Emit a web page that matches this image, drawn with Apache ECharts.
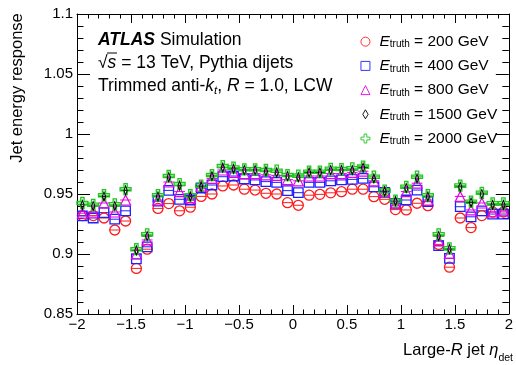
<!DOCTYPE html>
<html>
<head>
<meta charset="utf-8">
<script src="https://cdn.jsdelivr.net/npm/echarts@6/dist/echarts.min.js"></script>
<style>
  html, body { margin: 0; padding: 0; background: #fff; }
  #chart { width: 516px; height: 365px; }
</style>
</head>
<body>
<div id="chart"></div>
<script>
// Detector-eta bin centres (bin width 0.1)
const etaBins = [
  -1.95, -1.85, -1.75, -1.65, -1.55, -1.45, -1.35, -1.25, -1.15, -1.05,
  -0.95, -0.85, -0.75, -0.65, -0.55, -0.45, -0.35, -0.25, -0.15, -0.05,
   0.05,  0.15,  0.25,  0.35,  0.45,  0.55,  0.65,  0.75,  0.85,  0.95,
   1.05,  1.15,  1.25,  1.35,  1.45,  1.55,  1.65,  1.75,  1.85,  1.95
];
const binHalfWidth = 0.05;

// Mean jet energy response per eta bin, one array per truth energy
const resp200 = [
  0.932, 0.932, 0.930, 0.920, 0.9275, 0.888, 0.904, 0.938, 0.942, 0.936,
  0.939, 0.948, 0.950, 0.9567, 0.9575, 0.954, 0.9533, 0.9506, 0.950, 0.9428,
  0.9406, 0.949, 0.9497, 0.951, 0.9519, 0.954, 0.954, 0.9478, 0.9456, 0.937,
  0.9367, 0.9423, 0.9403, 0.908, 0.889, 0.930, 0.922, 0.932, 0.935, 0.935
];
const resp400 = [
  0.9317, 0.930, 0.9345, 0.929, 0.936, 0.896, 0.906, 0.944, 0.953, 0.9456,
  0.945, 0.955, 0.9575, 0.9644, 0.965, 0.9625, 0.9617, 0.9603, 0.9597, 0.9528,
  0.9511, 0.9597, 0.9597, 0.961, 0.9617, 0.9622, 0.963, 0.956, 0.9514, 0.9422,
  0.945, 0.9533, 0.9436, 0.907, 0.8964, 0.9394, 0.931, 0.936, 0.9333, 0.9333
];
const resp800 = [
  0.934, 0.935, 0.9425, 0.935, 0.945, 0.900, 0.9117, 0.945, 0.960, 0.952,
  0.9467, 0.9565, 0.963, 0.970, 0.968, 0.967, 0.967, 0.966, 0.9655, 0.962,
  0.961, 0.965, 0.965, 0.967, 0.967, 0.968, 0.969, 0.961, 0.952, 0.9425,
  0.952, 0.959, 0.945, 0.911, 0.9005, 0.948, 0.9367, 0.9425, 0.935, 0.936
];
const resp1500 = [
  0.941, 0.940, 0.948, 0.940, 0.953, 0.903, 0.915, 0.948, 0.964, 0.957,
  0.948, 0.956, 0.965, 0.972, 0.971, 0.970, 0.970, 0.969, 0.968, 0.965,
  0.964, 0.968, 0.968, 0.970, 0.970, 0.970, 0.972, 0.963, 0.952, 0.944,
  0.955, 0.963, 0.948, 0.915, 0.904, 0.956, 0.943, 0.950, 0.941, 0.941
];
const resp2000 = [
  0.9425, 0.941, 0.949, 0.9414, 0.954, 0.904, 0.9164, 0.949, 0.965, 0.9583,
  0.949, 0.957, 0.9658, 0.9733, 0.972, 0.9706, 0.9706, 0.970, 0.9694, 0.9658,
  0.9653, 0.9686, 0.9686, 0.971, 0.9708, 0.9714, 0.9728, 0.9644, 0.9528, 0.9444,
  0.956, 0.9644, 0.949, 0.9164, 0.9047, 0.957, 0.9436, 0.951, 0.9422, 0.9422
];

const seriesNames = ['200 GeV', '400 GeV', '800 GeV', '1500 GeV', '2000 GeV'];

// Axis tick labels
const xTickLabels = ['\u22122', '\u22121.5', '\u22121', '\u22120.5', '0', '0.5', '1', '1.5', '2'];
const yTickLabels = ['0.85', '0.9', '0.95', '1', '1.05', '1.1'];

const X_MIN = -2, X_MAX = 2, X_STEP = 0.5;
const Y_MIN = 0.85, Y_MAX = 1.1, Y_STEP = 0.05;

const FONT = '"Liberation Sans", Arial, Helvetica, sans-serif';

const crossPath = 'path://M-0.3,-1 L0.3,-1 L0.3,-0.3 L1,-0.3 L1,0.3 L0.3,0.3 L0.3,1 L-0.3,1 L-0.3,0.3 L-1,0.3 L-1,-0.3 L-0.3,-0.3 Z';
const diamondPath = 'path://M0,-1 L0.6,0 L0,1 L-0.6,0 Z';

const styles = [
  { data: resp200,  color: '#ff1a1a', symbol: 'circle',   size: 10,     width: 1.3 },
  { data: resp400,  color: '#2020ff', symbol: 'rect',     size: 9.5,    width: 1.3 },
  { data: resp800,  color: '#e600e6', symbol: 'triangle', size: 10,     width: 1.2 },
  { data: resp1500, color: '#000000', symbol: diamondPath, size: [5.5, 9], width: 1.1 },
  { data: resp2000, color: '#1ec81e', symbol: crossPath,  size: 11,     width: 1.3 }
];

const points = arr => etaBins.map((x, i) => [x, arr[i]]);

const series = [];
// horizontal bin-width bars, drawn underneath the markers
styles.forEach((s, k) => {
  series.push({
    type: 'custom',
    name: seriesNames[k] + ' bins',
    data: points(s.data),
    z: 1,
    silent: true,
    renderItem: (params, api) => {
      const x = api.value(0), y = api.value(1);
      const a = api.coord([x - binHalfWidth, y]);
      const b = api.coord([x + binHalfWidth, y]);
      return {
        type: 'line',
        shape: { x1: a[0], y1: a[1], x2: b[0], y2: b[1] },
        style: { stroke: s.color, lineWidth: 1 }
      };
    }
  });
});
styles.forEach((s, k) => {
  series.push({
    type: 'scatter',
    name: seriesNames[k],
    data: points(s.data),
    symbol: s.symbol,
    symbolSize: s.size,
    symbolKeepAspect: k === 3,
    z: k === 3 ? 4 : 3,
    animation: false,
    itemStyle: { color: 'rgba(0,0,0,0)', borderColor: s.color, borderWidth: s.width, opacity: 1 }
  });
});

const axisCommon = {
  type: 'value',
  axisLine: { show: true, onZero: false, lineStyle: { color: '#000', width: 1 } },
  splitLine: { show: false },
  axisTick: { show: true, inside: true, lineStyle: { color: '#000', width: 1 } },
  minorTick: { show: true, splitNumber: 5, lineStyle: { color: '#000', width: 1 } }
};

const xAxisBase = Object.assign({}, axisCommon, { min: X_MIN, max: X_MAX, interval: X_STEP });
const yAxisBase = Object.assign({}, axisCommon, { min: Y_MIN, max: Y_MAX, interval: Y_STEP });

const option = {
  animation: false,
  backgroundColor: '#fff',
  textStyle: { fontFamily: FONT },
  grid: { left: 77, right: 3, top: 14, bottom: 51, containLabel: false },
  xAxis: [
    Object.assign({}, xAxisBase, {
      position: 'bottom',
      axisTick: Object.assign({}, axisCommon.axisTick, { length: 9 }),
      minorTick: Object.assign({}, axisCommon.minorTick, { length: 4.5 }),
      axisLabel: {
        show: true, margin: 3, color: '#000', fontSize: 15, fontFamily: FONT,
        formatter: v => xTickLabels[Math.round((v - X_MIN) / X_STEP)]
      }
    }),
    Object.assign({}, xAxisBase, {
      position: 'top',
      axisTick: Object.assign({}, axisCommon.axisTick, { length: 9 }),
      minorTick: Object.assign({}, axisCommon.minorTick, { length: 4.5 }),
      axisLabel: { show: false }
    })
  ],
  yAxis: [
    Object.assign({}, yAxisBase, {
      position: 'left',
      axisTick: Object.assign({}, axisCommon.axisTick, { length: 13 }),
      minorTick: Object.assign({}, axisCommon.minorTick, { length: 6.5 }),
      axisLabel: {
        show: true, margin: 4, color: '#000', fontSize: 15, fontFamily: FONT,
        formatter: v => yTickLabels[Math.round((v - Y_MIN) / Y_STEP)]
      }
    }),
    Object.assign({}, yAxisBase, {
      position: 'right',
      axisTick: Object.assign({}, axisCommon.axisTick, { length: 13 }),
      minorTick: Object.assign({}, axisCommon.minorTick, { length: 6.5 }),
      axisLabel: { show: false }
    })
  ],
  legend: {
    orient: 'vertical',
    left: 360.5,
    top: 33.7,
    padding: 0,
    itemWidth: 9,
    itemHeight: 9,
    itemGap: 8.2,
    selectedMode: false,
    itemStyle: { borderWidth: 0.9 },
    data: seriesNames,
    formatter: name => '{e|E}{s|truth}{t| = ' + name + '}',
    textStyle: {
      color: '#000',
      fontFamily: FONT,
      rich: {
        e: { fontSize: 15.5, fontStyle: 'italic', lineHeight: 16, padding: [0, 0, 0, 4.5], fontFamily: FONT, color: '#000' },
        s: { fontSize: 10, lineHeight: 4, verticalAlign: 'bottom', fontFamily: FONT, color: '#000' },
        t: { fontSize: 15.5, lineHeight: 16, fontFamily: FONT, color: '#000' }
      }
    }
  },
  graphic: [
    {
      type: 'text', x: 98, y: 40,
      style: {
        text: '{b|ATLAS}{r| Simulation}', align: 'left', verticalAlign: 'middle',
        rich: {
          b: { fontSize: 17.5, fontWeight: 'bold', fontStyle: 'italic', fontFamily: FONT, fill: '#000' },
          r: { fontSize: 17.5, fontFamily: FONT, fill: '#000' }
        }
      }
    },
    {
      type: 'text', x: 98, y: 63,
      style: {
        text: '{r|\u221A}{i|s}{r| = 13 TeV, Pythia dijets}', align: 'left', verticalAlign: 'middle',
        rich: {
          i: { fontSize: 17.5, fontStyle: 'italic', fontFamily: FONT, fill: '#000' },
          r: { fontSize: 17.5, fontFamily: FONT, fill: '#000' }
        }
      }
    },
    {
      type: 'line', shape: { x1: 107, y1: 53, x2: 117, y2: 53 },
      style: { stroke: '#000', lineWidth: 1 }
    },
    {
      type: 'text', x: 98, y: 86,
      style: {
        text: '{r|Trimmed anti-}{i|k}{s|t}{r|, }{i|R}{r| = 1.0, LCW}', align: 'left', verticalAlign: 'middle',
        rich: {
          i: { fontSize: 17.5, fontStyle: 'italic', lineHeight: 22, fontFamily: FONT, fill: '#000' },
          r: { fontSize: 17.5, lineHeight: 22, fontFamily: FONT, fill: '#000' },
          s: { fontSize: 11.5, fontStyle: 'italic', lineHeight: 8, verticalAlign: 'bottom', fontFamily: FONT, fill: '#000' }
        }
      }
    },
    {
      type: 'text', x: 17, y: 88, rotation: Math.PI / 2,
      style: {
        text: 'Jet energy response', align: 'center', verticalAlign: 'middle',
        fontSize: 16.5, fontFamily: FONT, fill: '#000'
      }
    },
    {
      type: 'text', x: 513, y: 350,
      style: {
        text: '{r|Large-}{i|R}{r| jet }{i|\u03B7}{s|det}', align: 'right', verticalAlign: 'middle',
        rich: {
          i: { fontSize: 16.5, fontStyle: 'italic', lineHeight: 28, fontFamily: FONT, fill: '#000' },
          r: { fontSize: 16.5, lineHeight: 28, fontFamily: FONT, fill: '#000' },
          s: { fontSize: 10.5, lineHeight: 10, verticalAlign: 'bottom', fontFamily: FONT, fill: '#000' }
        }
      }
    }
  ],
  series: series
};

const chart = echarts.init(document.getElementById('chart'), null, { renderer: 'canvas' });
chart.setOption(option);
</script>
</body>
</html>
